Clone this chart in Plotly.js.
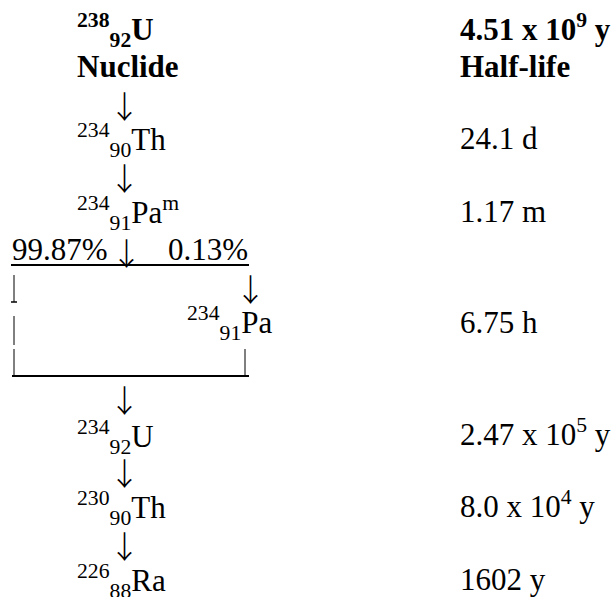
<!DOCTYPE html>
<html>
<head>
<meta charset="utf-8">
<script src="https://cdn.plot.ly/plotly-3.0.1.min.js"></script>
<style>
  html, body { margin: 0; padding: 0; background: #ffffff; }
  #chart { width: 615px; height: 597px; }
</style>
</head>
<body>
<div id="chart"></div>
<script>
// ---- data: uranium-238 decay chain ----
const massNumbers   = [238, 234, 234, 234, 234, 230, 226];
const atomicNumbers = [92, 90, 91, 91, 92, 90, 88];
const symbols       = ['U', 'Th', 'Pa', 'Pa', 'U', 'Th', 'Ra'];
const isomerMarks   = ['', '', 'm', '', '', '', ''];
const halfLives     = ['4.51 x 10<sup>9</sup> y', '24.1 d', '1.17 m', '6.75 h',
                       '2.47 x 10<sup>5</sup> y', '8.0 x 10<sup>4</sup> y', '1602 y'];
const headers       = ['Nuclide', 'Half-life'];
const branchRatios  = ['99.87%', '0.13%'];

// ---- layout (pixel coordinates) ----
const FONT = 'Liberation Serif';
const ARROW_FONT = 'Noto Sans CJK JP';
const FS = 31;
const ARROW_FS = 31;
const rowBaseline  = [40, 150, 223, 333, 447, 518, 591];
const halfBaseline = [40, 149, 222, 333, 445, 517, 590];
const nuclideX     = [76, 76, 76, 186, 76, 76, 76];
const halfLifeX    = 459;
const arrowRows    = [[92, 120], [165, 192], [387, 413], [460, 487], [533, 560]];
const arrowX       = 124;

const annotations = [];
function addText(text, x, baseline, opts) {
  opts = opts || {};
  const hasSup = /<sup>/.test(text), hasSub = /<sub>/.test(text);
  let off = 10.5;
  if (hasSup && !hasSub) off = 12.8;
  annotations.push({
    text: opts.bold ? '<b>' + text + '</b>' : text,
    x: x, y: baseline - off,
    xref: 'x', yref: 'y', xanchor: 'left', yanchor: 'middle',
    showarrow: false, borderpad: 0,
    font: { family: FONT, size: FS, color: '#000000' }
  });
}
function addArrow(x, yTop, yBottom) {
  annotations.push({
    text: '↓', x: x, y: (yTop + yBottom) / 2 - 2, xref: 'x', yref: 'y',
    xanchor: 'center', yanchor: 'middle', showarrow: false, borderpad: 0,
    font: { family: ARROW_FONT, size: ARROW_FS, color: '#000000', weight: 300 }
  });
}

// nuclides and half-lives
for (let i = 0; i < symbols.length; i++) {
  let t = '<sup>' + massNumbers[i] + '</sup><sub>' + atomicNumbers[i] + '</sub>' + symbols[i];
  if (isomerMarks[i]) t += '<sup>' + isomerMarks[i] + '</sup>';
  addText(t, nuclideX[i], rowBaseline[i], { bold: i === 0 });
  addText(halfLives[i], halfLifeX, halfBaseline[i], { bold: i === 0 });
}
// headers
addText(headers[0], 76, 77, { bold: true });
addText(headers[1], halfLifeX, 77, { bold: true });

// decay arrows
arrowRows.forEach(function (r) { addArrow(arrowX, r[0], r[1]); });

// branching row
addText(branchRatios[0], 11, 260);
addText(branchRatios[1], 167, 260);
addArrow(126, 240, 267);
addArrow(250, 275, 303);

// connector lines
const line = function (x0, y0, x1, y1, w) {
  return { type: 'line', xref: 'x', yref: 'y', x0: x0, y0: y0, x1: x1, y1: y1,
           line: { color: '#000000', width: w } };
};
const shapes = [
  line(11, 265, 249, 265, 2),      // underline of branch ratios
  line(14, 275, 14, 302, 1),       // left branch segments
  line(11, 302, 17, 302, 1.5),
  line(14, 316, 14, 345, 1),
  line(14, 349, 14, 376, 1),
  line(245, 349, 245, 376, 1),     // right branch segment
  line(12, 376, 249, 376, 2)       // closing line
];

const layout = {
  width: 615, height: 597,
  margin: { l: 0, r: 0, t: 0, b: 0 },
  paper_bgcolor: '#ffffff', plot_bgcolor: '#ffffff',
  xaxis: { range: [0, 615], visible: false, fixedrange: true },
  yaxis: { range: [597, 0], visible: false, fixedrange: true },
  showlegend: false,
  annotations: annotations,
  shapes: shapes
};

Plotly.newPlot('chart', [{ x: [], y: [], type: 'scatter', mode: 'markers', hoverinfo: 'skip' }],
  layout, { staticPlot: true, displayModeBar: false });
</script>
</body>
</html>
